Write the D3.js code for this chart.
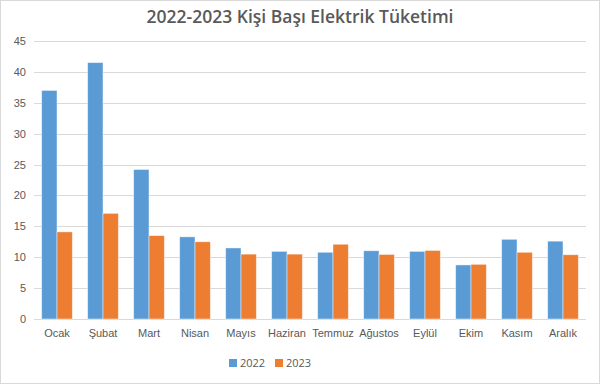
<!DOCTYPE html>
<html>
<head>
<meta charset="utf-8">
<script src="https://cdn.jsdelivr.net/npm/d3@7"></script>
<style>
  body { margin: 0; background: #fff; }
  svg { display: block; font-family: "Open Sans", "Liberation Sans", sans-serif; }
</style>
</head>
<body>
<div id="chart"></div>
<script>
// aylar ve seriler
var months = ["Ocak", "Şubat", "Mart", "Nisan", "Mayıs", "Haziran", "Temmuz", "Ağustos", "Eylül", "Ekim", "Kasım", "Aralık"];
var series = ["2022", "2023"];
var values2022 = [37.0, 41.5, 24.2, 13.3, 11.5, 10.95, 10.8, 11.05, 10.95, 8.75, 12.9, 12.6];
var values2023 = [14.1, 17.1, 13.5, 12.5, 10.5, 10.5, 12.1, 10.45, 11.1, 8.85, 10.8, 10.4];
var yTicks = [0, 5, 10, 15, 20, 25, 30, 35, 40, 45];
var colors = ["#5B9BD5", "#ED7D31"];

(function () {
    var width = 600, height = 384;
    var margin = { top: 41, right: 14, bottom: 65, left: 34 };

    var svg = d3.select('#chart')
                .append('svg')
                .attr('width', width)
                .attr('height', height);

    // dış çerçeve
    svg.append('rect')
        .attr('x', 0.5).attr('y', 0.5)
        .attr('width', width - 1).attr('height', height - 1)
        .attr('fill', '#fff')
        .attr('stroke', '#d9d9d9');

    var w = width - margin.left - margin.right,
        h = height - margin.top - margin.bottom;

    var g = svg.append('g')
        .attr('transform', 'translate(' + margin.left + ',' + margin.top + ')');

    var xScale = d3.scaleBand().domain(months).range([0, w]).paddingInner(0).paddingOuter(0);
    var yScale = d3.scaleLinear().domain([0, 45]).range([h, 0]);
    var inner = d3.scaleBand().domain(series).range([xScale.bandwidth() / 6, xScale.bandwidth() * 5 / 6]);

    // grid
    g.selectAll('.grid')
        .data(yTicks)
        .enter()
        .append('line')
        .attr('x1', 0).attr('x2', w)
        .attr('y1', function(d) { return Math.round(yScale(d)) + 0.5; })
        .attr('y2', function(d) { return Math.round(yScale(d)) + 0.5; })
        .attr('stroke', '#d9d9d9')
        .attr('stroke-width', 1);

    var data = months.map(function(m, i) {
        return { month: m, vals: [values2022[i], values2023[i]] };
    });

    var groups = g.selectAll('.month')
        .data(data)
        .enter()
        .append('g')
        .attr('transform', function(d) { return 'translate(' + xScale(d.month) + ',0)'; });

    groups.selectAll('rect')
        .data(function(d) { return d.vals.map(function(v, j) { return { s: series[j], v: v, c: colors[j] }; }); })
        .enter()
        .append('rect')
        .attr('x', function(d) { return inner(d.s); })
        .attr('y', function(d) { return yScale(d.v); })
        .attr('width', inner.bandwidth())
        .attr('height', function(d) { return h - yScale(d.v); })
        .attr('fill', function(d) { return d.c; })
        .attr('stroke', 'rgba(255,255,255,0.55)')
        .attr('stroke-width', 0.8);

    // y axis labels
    g.append('g')
        .call(d3.axisLeft(yScale).tickValues(yTicks).tickSize(0).tickPadding(8))
        .call(function(a) { a.select('.domain').remove(); })
        .selectAll('text')
        .attr('fill', '#595959')
        .style('font-size', '11px');

    // x axis labels
    g.append('g')
        .attr('transform', 'translate(0,' + h + ')')
        .call(d3.axisBottom(xScale).tickSize(0).tickPadding(10))
        .call(function(a) { a.select('.domain').remove(); })
        .selectAll('text')
        .attr('fill', '#595959')
        .style('font-size', '11px');

    // title
    svg.append('text')
        .attr('x', width / 2)
        .attr('y', 23)
        .attr('text-anchor', 'middle')
        .attr('fill', '#595959')
        .style('font-size', '17.5px')
        .style('font-weight', '600')
        .text('2022-2023 Kişi Başı Elektrik Tüketimi');

    // legend
    var legend = svg.append('g').attr('transform', 'translate(229,359)');
    var items = legend.selectAll('g')
        .data(series)
        .enter()
        .append('g')
        .attr('transform', function(d, i) { return 'translate(' + (i * 46) + ',0)'; });
    items.append('rect')
        .attr('width', 8).attr('height', 8)
        .attr('fill', function(d, i) { return colors[i]; });
    items.append('text')
        .attr('x', 11).attr('y', 8)
        .attr('fill', '#595959')
        .style('font-size', '11px')
        .text(function(d) { return d; });
})();
</script>
</body>
</html>
